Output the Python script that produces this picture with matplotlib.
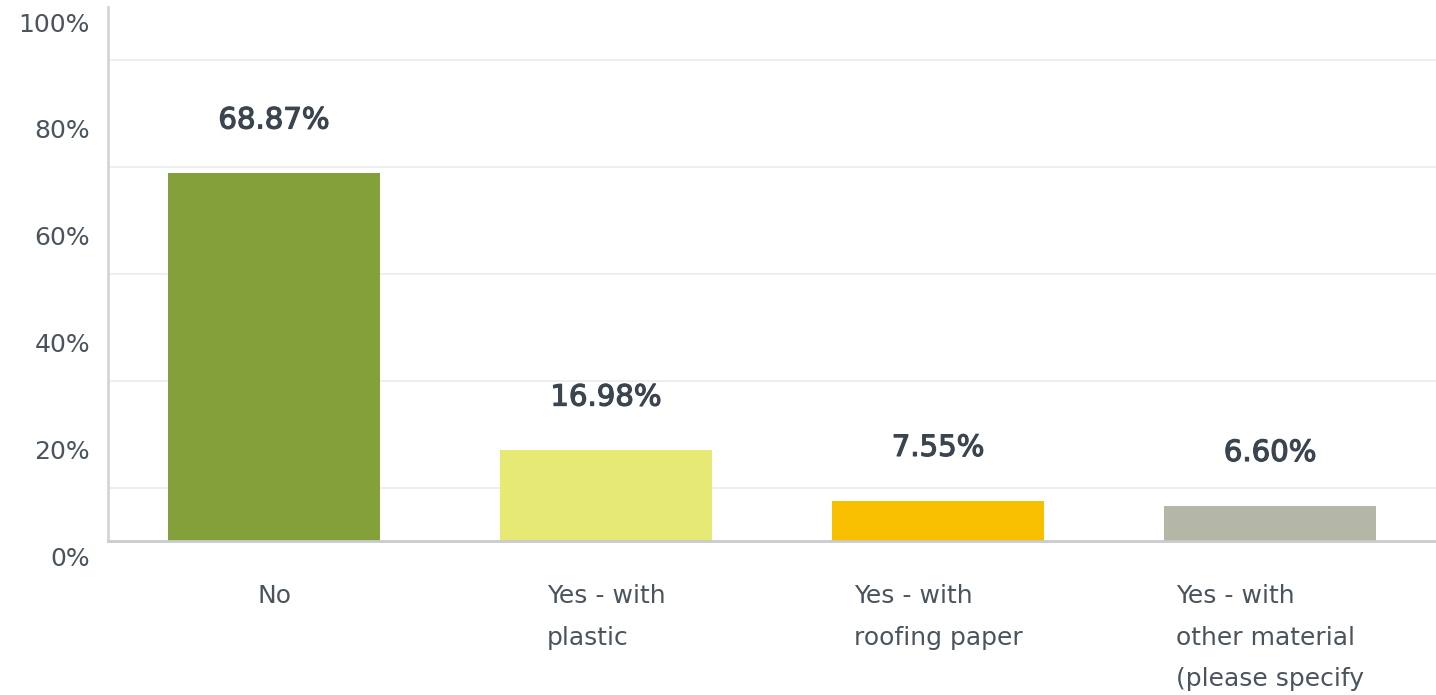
import matplotlib
matplotlib.use("Agg")
import matplotlib.pyplot as plt
import matplotlib.transforms as mtransforms
import matplotlib.patheffects as pe
import numpy as np

categories = ["No", "Yes - with\nplastic", "Yes - with\nroofing paper",
              "Yes - with\nother material\n(please specify"]
values = [68.87, 16.98, 7.55, 6.60]
value_labels = ["68.87%", "16.98%", "7.55%", "6.60%"]
colors = ["#84a03b", "#e6ea74", "#f7bf00", "#b4b6a6"]
ytick_vals = [0, 20, 40, 60, 80, 100]
ytick_labels = ["0%", "20%", "40%", "60%", "80%", "100%"]

plt.rcParams['font.family'] = ['DejaVu Sans']

fig = plt.figure(figsize=(14.36, 6.95), dpi=100)
ax = fig.add_axes([108/1436, 1-541/695, 1-108/1436, (541-7)/695])

x = np.arange(len(categories))
ax.bar(x, values, width=0.64, color=colors, zorder=3)
ax.set_xlim(-0.5, len(categories)-0.5)
ax.set_ylim(0, 100)

ax.set_yticks(np.arange(0, 101, 10), minor=True)
ax.yaxis.grid(True, which='minor', color='#ebedee', linewidth=1.3, zorder=0)
ax.set_yticks(ytick_vals)
ax.set_yticklabels(ytick_labels, fontsize=18, color='#4a545e')
ax.tick_params(axis='y', which='both', length=0, pad=13)
offset = mtransforms.ScaledTranslation(0, -15/100, fig.dpi_scale_trans)
for lbl in ax.get_yticklabels():
    lbl.set_transform(lbl.get_transform() + offset)

ax.set_xticks(x)
ax.set_xticklabels(categories, fontsize=18, color='#4a545e',
                   multialignment='left', linespacing=1.93, va='top')
ax.tick_params(axis='x', length=0, pad=31)

for s in ['top', 'right']:
    ax.spines[s].set_visible(False)
ax.spines['left'].set_color('#d3d5d6')
ax.spines['left'].set_linewidth(2)
ax.spines['bottom'].set_color('#c9cbcc')
ax.spines['bottom'].set_linewidth(2)
ax.spines['bottom'].set_zorder(4)

for xi, v, t in zip(x, values, value_labels):
    ax.annotate(t, (xi, v), xytext=(0, 38), textcoords='offset points',
                ha='center', va='center', fontsize=21, fontweight='normal',
                color='#3a4550',
                path_effects=[pe.withStroke(linewidth=0.9, foreground='#3a4550')])

fig.savefig("out.png", dpi=100, facecolor='white')
